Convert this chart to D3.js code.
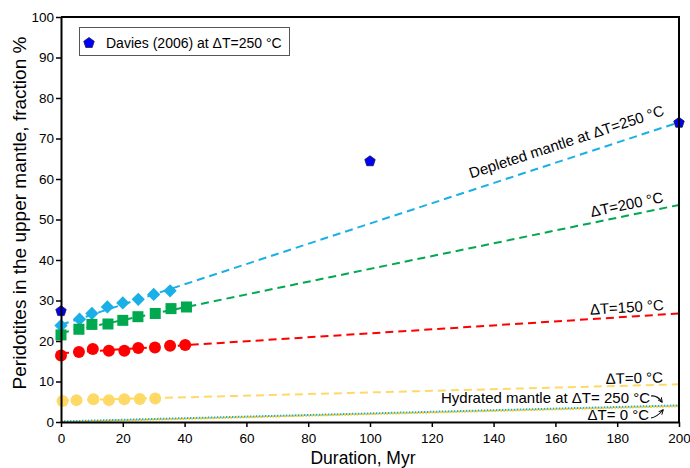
<!DOCTYPE html>
<html>
<head>
<meta charset="utf-8">
<script src="https://cdn.jsdelivr.net/npm/d3@7"></script>
<style>
  body { margin: 0; background: #fff; }
  text { font-family: Arial, "Liberation Sans", sans-serif; fill: #000; }
</style>
</head>
<body>
<script>
// sample points
var blueX = [0, 6, 10, 15, 20, 25, 30, 35.3];
var blueY = [23.8, 25.4, 26.8, 28.4, 29.4, 30.3, 31.5, 32.4];
var greenX = [0, 5.8, 10, 15.2, 20, 24.9, 30.5, 35.6, 40.6];
var greenY = [21.5, 22.9, 24.1, 24.2, 25.1, 26, 26.8, 28, 28.4];
var redX = [0, 5.8, 10.3, 15.5, 20.5, 25, 30.4, 35.3, 40.2];
var redY = [16.4, 17.3, 18, 17.6, 17.6, 18.3, 18.4, 18.8, 19];
var yellowX = [0.5, 5, 10.5, 15.5, 20.5, 25.5, 30.5];
var yellowY = [5.2, 5.4, 5.6, 5.4, 5.6, 5.7, 5.8];
var daviesX = [0, 100, 200];
var daviesY = [27.5, 64.5, 74];

// fitted trend lines, value at 0 and at 200 Myr
var fitNames = ["blue", "green", "red", "yellow", "hydBlue", "hydYellow"];
var fitStart = [24, 22, 17, 5.3, 0.15, 0];
var fitEnd = [74, 53.6, 26.8, 9.3, 4.1, 3.9];

var xTicks = d3.range(0, 201, 20);
var yTicks = d3.range(0, 101, 10);

var W = 690, H = 468;
var svg = d3.select("body").append("svg")
            .attr("width", W)
            .attr("height", H);

var x = d3.scaleLinear().domain([0, 200]).range([61, 679]);
var y = d3.scaleLinear().domain([0, 100]).range([422, 17]);

var col = {
  blue: "#1aafe6",
  green: "#00a84f",
  red: "#ff0000",
  yellow: "#ffd966",
  hydBlue: "#1aafe6",
  hydYellow: "#f5c400"
};

// fit lines
var plot = svg.append("g");
fitNames.forEach(function (n, i) {
  var hyd = n.indexOf("hyd") == 0;
  plot.append("line")
      .attr("x1", x(0)).attr("y1", y(fitStart[i]))
      .attr("x2", x(200)).attr("y2", y(fitEnd[i]))
      .attr("stroke", col[n])
      .attr("stroke-width", 2)
      .attr("stroke-dasharray", hyd ? "1.5,1.5" : "8,5")
      .attr("stroke-dashoffset", n == "hydYellow" ? 1.5 : 0);
});

// markers
var diamond = d3.symbol().type(d3.symbolSquare).size(88);
plot.selectAll(".dia").data(d3.zip(blueX, blueY)).enter()
    .append("path")
    .attr("d", diamond)
    .attr("transform", d => "translate(" + x(d[0]) + "," + y(d[1]) + ") rotate(45)")
    .attr("fill", col.blue);

plot.selectAll(".sq").data(d3.zip(greenX, greenY)).enter()
    .append("rect")
    .attr("x", d => x(d[0]) - 5.5)
    .attr("y", d => y(d[1]) - 5.5)
    .attr("width", 11).attr("height", 11)
    .attr("fill", col.green);

plot.selectAll(".rc").data(d3.zip(redX, redY)).enter()
    .append("circle")
    .attr("cx", d => x(d[0])).attr("cy", d => y(d[1]))
    .attr("r", 6)
    .attr("fill", col.red);

plot.selectAll(".yc").data(d3.zip(yellowX, yellowY)).enter()
    .append("circle")
    .attr("cx", d => x(d[0])).attr("cy", d => y(d[1]))
    .attr("r", 6)
    .attr("fill", col.yellow);

function pentagon(cx, cy, r) {
  var pts = d3.range(5).map(function (k) {
    var a = -Math.PI / 2 + k * 2 * Math.PI / 5;
    return [cx + r * Math.cos(a), cy + r * Math.sin(a)];
  });
  return "M" + pts.join("L") + "Z";
}
plot.selectAll(".pt").data(d3.zip(daviesX, daviesY)).enter()
    .append("path")
    .attr("d", d => pentagon(x(d[0]), y(d[1]) + 0.5, 5.5))
    .attr("fill", "#0000ff")
    .attr("stroke", "#1a1a40")
    .attr("stroke-width", 0.8);

// axes
var xAxis = svg.append("g")
    .attr("transform", "translate(0," + y(0) + ")")
    .call(d3.axisBottom(x).tickValues(xTicks).tickSize(5).tickSizeOuter(0));
var yAxis = svg.append("g")
    .attr("transform", "translate(" + x(0) + ",0)")
    .call(d3.axisLeft(y).tickValues(yTicks).tickSize(5).tickSizeOuter(0));
[xAxis, yAxis].forEach(function (a) {
  a.select(".domain").attr("stroke", "#000").attr("stroke-width", 2);
  a.selectAll(".tick line").attr("stroke", "#000").attr("stroke-width", 1.5);
  a.selectAll("text").style("font-size", "13.5px").attr("fill", "#222");
});
xAxis.selectAll("text").attr("dy", "0.95em");
yAxis.selectAll("text").attr("x", -7);

// frame top and right
svg.append("path")
   .attr("d", "M" + x(0) + "," + y(100) + "H" + x(200) + "V" + y(0))
   .attr("fill", "none")
   .attr("stroke", "#000")
   .attr("stroke-width", 2);

// axis titles
svg.append("text")
   .attr("x", 363)
   .attr("y", 464)
   .attr("text-anchor", "middle")
   .style("font-size", "17.5px")
   .text("Duration, Myr");
svg.append("text")
   .attr("transform", "translate(26,213) rotate(-90)")
   .attr("text-anchor", "middle")
   .style("font-size", "19px")
   .text("Peridotites in the upper mantle, fraction %");

// legend
var lg = svg.append("g");
lg.append("rect")
  .attr("x", 79.5).attr("y", 27.5)
  .attr("width", 210).attr("height", 28)
  .attr("fill", "#fff")
  .attr("stroke", "#555")
  .attr("stroke-width", 1);
lg.append("path")
  .attr("d", pentagon(89, 43, 5.5))
  .attr("fill", "#0000ff")
  .attr("stroke", "#1a1a40")
  .attr("stroke-width", 0.8);
lg.append("text")
  .attr("x", 106).attr("y", 47.5)
  .style("font-size", "14px")
  .text("Davies (2006) at \u0394T=250 \u00b0C");

// line labels
function angle(i) {
  var dx = x(200) - x(0), dy = y(fitEnd[i]) - y(fitStart[i]);
  return Math.atan2(dy, dx) * 180 / Math.PI;
}
var labels = [
  {t: "Depleted mantle at \u0394T=250 \u00b0C", i: 0, ax: 665, ay: 115},
  {t: "\u0394T=200 \u00b0C", i: 1, ax: 664, ay: 202},
  {t: "\u0394T=150 \u00b0C", i: 2, ax: 664, ay: 310},
  {t: "\u0394T=0 \u00b0C", i: 3, ax: 663, ay: 382.5}
];
labels.forEach(function (l) {
  svg.append("text")
     .attr("transform", "translate(" + l.ax + "," + l.ay + ") rotate(" + angle(l.i) + ")")
     .attr("text-anchor", "end")
     .style("font-size", "15px")
     .text(l.t);
});

svg.append("text")
   .attr("x", 650).attr("y", 403)
   .attr("text-anchor", "end")
   .style("font-size", "15px")
   .text("Hydrated mantle at \u0394T= 250 \u00b0C");
svg.append("text")
   .attr("x", 649).attr("y", 420)
   .attr("text-anchor", "end")
   .style("font-size", "15px")
   .text("\u0394T= 0 \u00b0C");

// little hooked arrows
svg.append("defs").append("marker")
   .attr("id", "ah")
   .attr("viewBox", "0 0 10 10")
   .attr("refX", 8).attr("refY", 5)
   .attr("markerWidth", 5).attr("markerHeight", 5)
   .attr("orient", "auto")
   .append("path")
   .attr("d", "M0,1L9,5L0,9")
   .attr("fill", "none")
   .attr("stroke", "#000")
   .attr("stroke-width", 1.6);
svg.append("path")
   .attr("d", "M651,396 Q657,395 662,402")
   .attr("fill", "none").attr("stroke", "#000").attr("stroke-width", 1.1)
   .attr("marker-end", "url(#ah)");
svg.append("path")
   .attr("d", "M651,418 Q657,417 663,410")
   .attr("fill", "none").attr("stroke", "#000").attr("stroke-width", 1.1)
   .attr("marker-end", "url(#ah)");
</script>
</body>
</html>
